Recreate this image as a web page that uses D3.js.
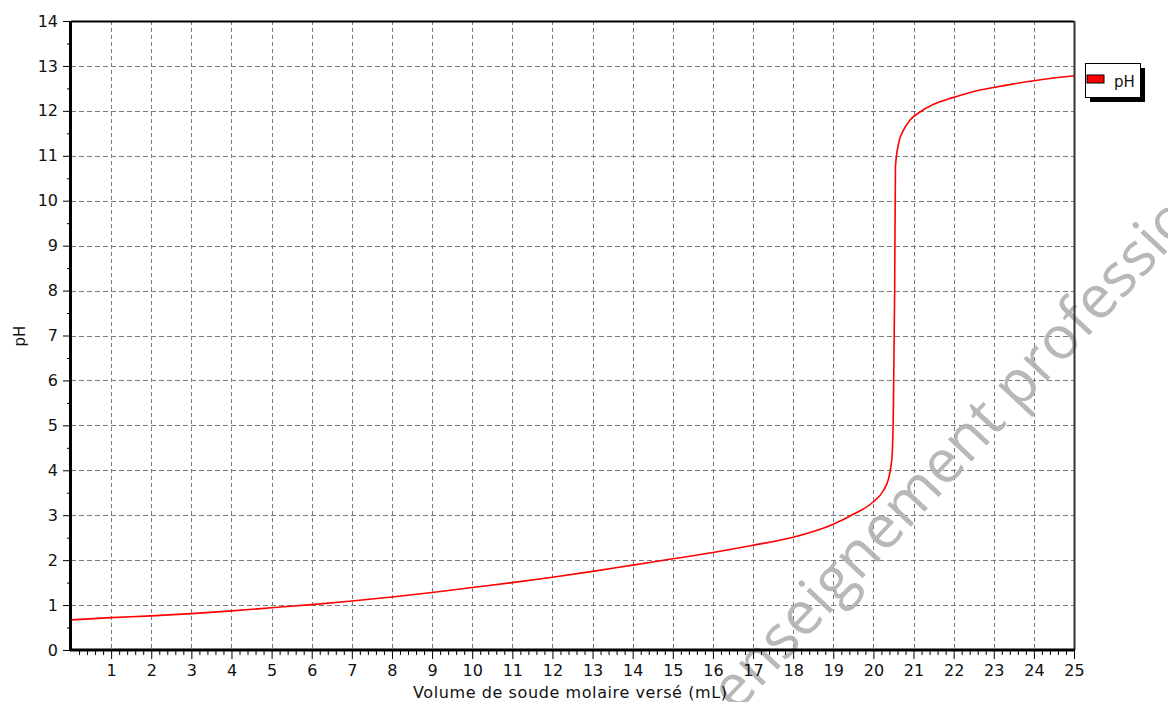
<!DOCTYPE html>
<html><head><meta charset="utf-8">
<script src="https://cdn.jsdelivr.net/npm/d3@7/dist/d3.min.js"></script>
<style>body{margin:0;background:#fff;}svg{display:block;font-family:"DejaVu Sans",sans-serif;}</style>
</head><body>
<svg id="c" width="1168" height="702"></svg>
<script>
const volume = [0,1,2,3,4,5,6,7,8,9,10,11,12,13,14,15,16,17,18,19,19.5,20,20.25,20.38,20.43,20.47,20.5,20.53,20.55,20.63,20.75,20.92,21.17,21.59,22,22.5,23,23.5,24,24.5,25];
const pH =     [0.67,0.72,0.76,0.81,0.87,0.94,1.01,1.09,1.18,1.28,1.39,1.50,1.62,1.75,1.89,2.03,2.17,2.33,2.51,2.80,3.02,3.30,3.55,3.82,4.05,4.38,5.5,8.0,10.76,11.28,11.57,11.80,11.98,12.18,12.30,12.43,12.52,12.60,12.67,12.73,12.78];
const xTicks = d3.range(1,26);
const yTicks = d3.range(0,15);
const seriesName = "pH";
const xLabel = "Volume de soude molaire versé (mL)";
const yLabel = "pH";
const watermark = "enseignement professionnel";

const FONT = "'DejaVu Sans',sans-serif";
const svg = d3.select("#c");
const L=71, R=1074, T=21, B=650;
const x = d3.scaleLinear().domain([0,25]).range([L,R]);
const y = d3.scaleLinear().domain([0,14]).range([B,T]);

// grid
const g = svg.append("g");
g.selectAll("line.vg").data(xTicks.filter(d=>d<25)).join("line")
  .attr("x1",d=>Math.round(x(d))+0.5).attr("x2",d=>Math.round(x(d))+0.5).attr("y1",T).attr("y2",B)
  .attr("stroke","#7a7a7a").attr("stroke-dasharray","4,3");
g.selectAll("line.hg").data(yTicks.filter(d=>d>0&&d<14)).join("line")
  .attr("y1",d=>Math.round(y(d))+0.5).attr("y2",d=>Math.round(y(d))+0.5).attr("x1",L).attr("x2",R)
  .attr("stroke","#7a7a7a").attr("stroke-dasharray","5,3");

// watermark
svg.append("text").attr("transform","translate(736,714) rotate(-47)")
  .attr("font-family","'Open Sans','DejaVu Sans',sans-serif").attr("font-weight",400)
  .attr("font-size",60).attr("fill","#b0b0b0").attr("fill-opacity",0.9).text(watermark);

// curve
const line = d3.line().x((d,i)=>x(volume[i])).y(d=>y(d)).curve(d3.curveMonotoneX);
svg.append("path").attr("d",line(pH)).attr("fill","none").attr("stroke","#ff0000").attr("stroke-width",1.6);

// frame
svg.append("line").attr("x1",L).attr("x2",R).attr("y1",T+0.5).attr("y2",T+0.5).attr("stroke","#000").attr("stroke-width",2);
svg.append("line").attr("x1",R+0.5).attr("x2",R+0.5).attr("y1",T).attr("y2",B).attr("stroke","#333").attr("stroke-width",2);

// y axis
const ya = svg.append("g").attr("transform",`translate(${L},0)`)
  .call(d3.axisLeft(y).tickValues(yTicks).tickFormat(d3.format("d")).tickSize(8).tickPadding(5));
ya.select(".domain").remove();
ya.selectAll("text").attr("font-size",16).attr("fill","#111").attr("font-family",FONT);
ya.selectAll("line").attr("stroke","#000");
const yMinor = d3.range(0.5,14,1);
svg.append("g").attr("transform",`translate(${L},0)`)
  .call(d3.axisLeft(y).tickValues(yMinor).tickFormat("").tickSize(4)).select(".domain").remove();

// x axis
const xa = svg.append("g").attr("transform",`translate(0,${B})`)
  .call(d3.axisBottom(x).tickValues(xTicks).tickFormat(d3.format("d")).tickSize(9).tickPadding(6));
xa.select(".domain").remove();
xa.selectAll("text").attr("font-size",16).attr("fill","#111").attr("font-family",FONT);
const xMinor = d3.range(0,125).map(i=>i/5).filter(d=>Math.abs(d-Math.round(d))>1e-6);
svg.append("g").attr("transform",`translate(0,${B})`)
  .call(d3.axisBottom(x).tickValues(xMinor).tickFormat("").tickSize(5)).select(".domain").remove();

svg.append("line").attr("x1",L-1).attr("x2",R+1).attr("y1",B).attr("y2",B).attr("stroke","#000").attr("stroke-width",3);
svg.append("line").attr("x1",L-0.5).attr("x2",L-0.5).attr("y1",T).attr("y2",B+1).attr("stroke","#000").attr("stroke-width",3);

// axis labels
svg.append("text").attr("x",570).attr("y",698).attr("text-anchor","middle").attr("font-size",16)
  .attr("textLength",314).attr("lengthAdjust","spacing").attr("fill","#111").text(xLabel);
svg.append("text").attr("transform","translate(25,336) rotate(-90)").attr("text-anchor","middle").attr("font-size",15).attr("fill","#111").text(yLabel);

// legend
const lg = svg.append("g");
lg.append("rect").attr("x",1090).attr("y",68).attr("width",55).attr("height",34).attr("fill","#000");
lg.append("rect").attr("x",1085.5).attr("y",63.5).attr("width",55).attr("height",34).attr("fill","#fff").attr("stroke","#000");
lg.append("rect").attr("x",1087).attr("y",75).attr("width",17).attr("height",8).attr("fill","#ff0000").attr("stroke","#000").attr("stroke-width",1);
lg.append("text").attr("x",1114).attr("y",87).attr("font-size",15).attr("fill","#111").text(seriesName);
</script>
</body></html>
